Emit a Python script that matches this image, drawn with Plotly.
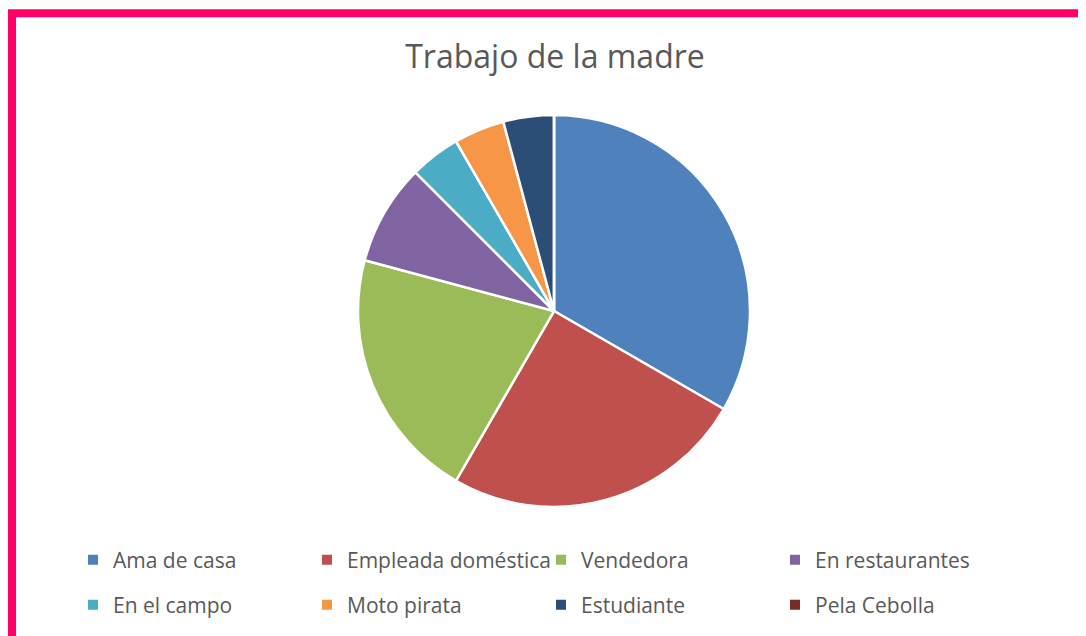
import plotly.graph_objects as go

# data
labels = ["Ama de casa", "Empleada doméstica", "Vendedora", "En restaurantes",
          "En el campo", "Moto pirata", "Estudiante", "Pela Cebolla"]
values = [8, 6, 5, 2, 1, 1, 1, 0]
colors = ["#4F81BD", "#C0504D", "#9BBB59", "#8064A2",
          "#4BACC6", "#F79646", "#2C4D75", "#772C2A"]

W, H = 1086, 636
OFF = 8  # the page body margin shifts the figure by 8px
font_family = "Open Sans, Noto Sans, sans-serif"
grey = "#595959"


def px_x(x):
    return (x - OFF) / W


def px_y(y):
    return 1 - (y - OFF) / H


fig = go.Figure()

fig.add_trace(go.Pie(
    labels=labels,
    values=values,
    sort=False,
    direction="clockwise",
    rotation=0,
    marker=dict(colors=colors, line=dict(color="white", width=2.5)),
    textinfo="none",
    hoverinfo="label+value+percent",
    showlegend=False,
    domain=dict(x=[px_x(554 - 196), px_x(554 + 196)],
                y=[px_y(507), px_y(115)]),
))

# legend built with dummy square markers, two rows of four like the original
for i, (lab, col) in enumerate(zip(labels, colors)):
    fig.add_trace(go.Scatter(
        x=[None], y=[None],
        mode="markers",
        name=lab,
        marker=dict(symbol="square", size=10, color=col),
        legend="legend" if i < 4 else "legend2",
        hoverinfo="skip",
    ))

legend_style = dict(
    orientation="h",
    xanchor="left",
    yanchor="middle",
    x=px_x(73),
    entrywidth=189,
    entrywidthmode="pixels",
    font=dict(family=font_family, size=21, color=grey),
    bgcolor="rgba(0,0,0,0)",
    borderwidth=0,
    itemclick=False,
    itemdoubleclick=False,
)

fig.update_layout(
    width=W,
    height=H,
    margin=dict(l=0, r=0, t=0, b=0),
    paper_bgcolor="white",
    plot_bgcolor="white",
    title=dict(text="Trabajo de la madre", x=px_x(555), xanchor="center",
               y=px_y(57), yanchor="middle", yref="paper",
               font=dict(family=font_family, size=32, color=grey)),
    legend=dict(legend_style, y=px_y(560)),
    legend2=dict(legend_style, y=px_y(605)),
    xaxis=dict(visible=False),
    yaxis=dict(visible=False),
    shapes=[dict(type="rect", xref="paper", yref="paper",
                 x0=px_x(12), x1=1.05, y0=-0.05, y1=px_y(13.3),
                 line=dict(color="#FF0066", width=8))],
)

fig.write_html("out.html")
